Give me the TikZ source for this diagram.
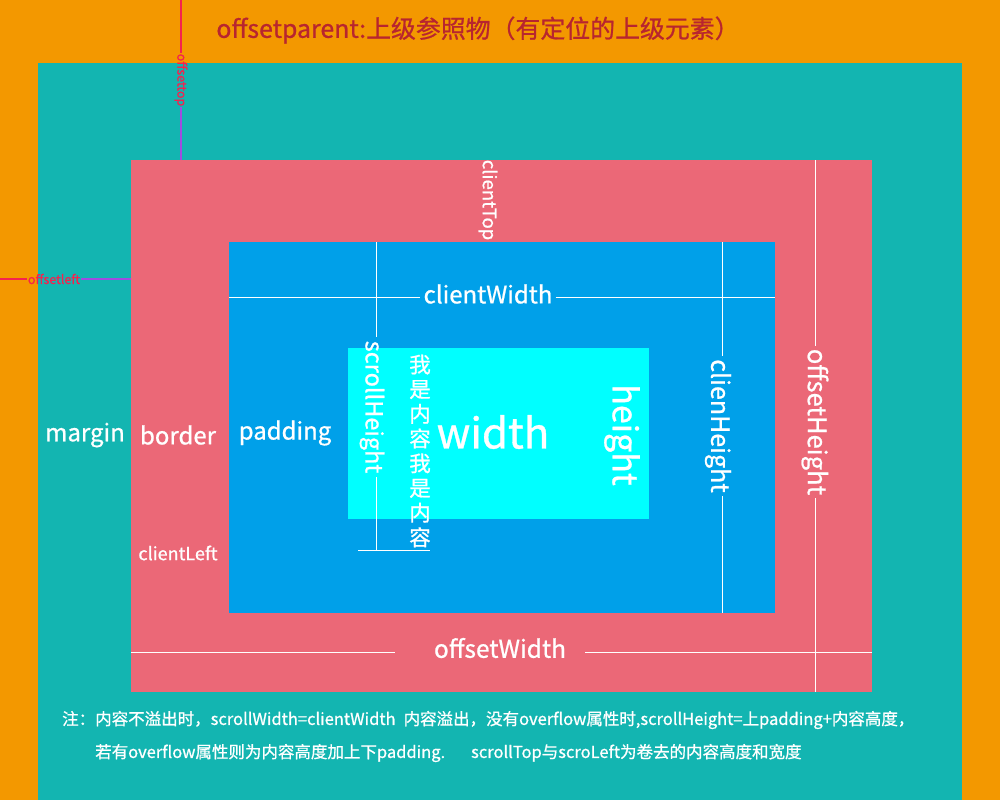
\documentclass[tikz,border=0pt]{standalone}
\usepackage{fontspec}
\setmainfont{Noto Sans CJK SC}[FakeBold=0.8]
\definecolor{orangebg}{HTML}{F39800}
\definecolor{tealbg}{HTML}{13B5B1}
\definecolor{pinkbg}{HTML}{EB6877}
\definecolor{bluebg}{HTML}{00A0E9}
\definecolor{cyanbg}{HTML}{00FFFF}
\definecolor{titlered}{HTML}{B8252F}
\definecolor{offred}{HTML}{F5224E}
\definecolor{offpurple}{HTML}{A04CE0}
\tikzset{
  box/.style={fill=#1, draw=none, inner sep=0pt, anchor=north west},
  lbl/.style={text=white, inner sep=0pt, font=\fontsize{#1}{#1}\selectfont},
  vlbl/.style={lbl=#1, rotate=-90},
  wline/.style={draw=white, line width=0.9pt},
  redlbl/.style={text=offred, inner sep=1pt, font=\fontsize{12.5}{12.5}\selectfont},
}
\begin{document}
\begin{tikzpicture}[x=1pt,y=-1pt]
\useasboundingbox (0,0) rectangle (1000,800);
\fill[orangebg] (0,0) rectangle (1000,800);
% boxes
\node[box=tealbg, minimum width=924pt, minimum height=737pt] (marginbox) at (38,63) {};
\node[box=pinkbg, minimum width=741pt, minimum height=532pt] (borderbox) at (131,160) {};
\node[box=bluebg, minimum width=546pt, minimum height=371pt] (paddingbox) at (229,242) {};
\node[box=cyanbg, minimum width=301pt, minimum height=171pt] (contentbox) at (348,348) {};

% title
\node[text=titlered, inner sep=0pt, font=\fontsize{24.9}{24.9}\selectfont] (title) at (478,30) {offsetparent:上级参照物（有定位的上级元素）};

% offsettop
\coordinate (ottop) at (181,0);
\node[redlbl, rotate=-90] (offtop) at (181,80) {offsettop};
\draw[offred, line width=1.1pt] (ottop) -- (offtop.west);
\draw[offpurple, line width=1.1pt] (offtop.east) -- (offtop.east |- borderbox.north);

% offsetleft
\coordinate (olleft) at (0,279);
\node[redlbl] (offleft) at (54,279) {offsetleft};
\draw[offred, line width=1.1pt] (olleft) -- (offleft.west);
\draw[offpurple, line width=1.1pt] (offleft.east) -- (offleft.east -| borderbox.west);

% clientTop
\node[vlbl=18.5, inner sep=0pt] (ctop) at (488,200) {clientTop};

% clientWidth
\node[lbl=24, inner xsep=3pt] (cwidth) at (488,294) {clientWidth};
\draw[wline] (paddingbox.west |- 0,297) -- (cwidth.west |- 0,297);
\draw[wline] (cwidth.east |- 0,297) -- (paddingbox.east |- 0,297);

% scrollHeight
\node[vlbl=23.5, inner xsep=4pt] (sheight) at (372,407) {scrollHeight};
\coordinate (shtop) at (376,242);
\coordinate (shbot) at (376,550);
\coordinate (shl) at (358,550);
\coordinate (shr) at (430,550);
\draw[wline] (shtop) -- (shtop |- sheight.west);
\draw[wline] (shbot |- sheight.east) -- (shbot);
\draw[wline] (shl) -- (shr);

% vertical content text
\node[text=white, inner sep=0pt, align=center, font=\fontsize{21.5}{24.7}\selectfont] (content) at (420,451)
  {我\\是\\内\\容\\我\\是\\内\\容};

% width / height
\node[lbl=42] (width) at (493,432) {width};
\node[vlbl=34] (height) at (622,435) {height};

% clienHeight
\node[vlbl=25, inner xsep=3pt] (cheight) at (718,426) {clienHeight};
\draw[wline] (paddingbox.north -| 722,0) -- (cheight.west -| 722,0);
\draw[wline] (cheight.east -| 722,0) -- (paddingbox.south -| 722,0);

% offsetHeight
\node[vlbl=25.5, inner xsep=3pt] (oheight) at (815,422) {offsetHeight};
\draw[wline] (borderbox.north -| oheight) -- (oheight.west);
\draw[wline] (oheight.east) -- (borderbox.south -| oheight);

% offsetWidth
\node[lbl=24.5] (owidth) at (500,648) {offsetWidth};
\coordinate (owl) at (395,652);
\coordinate (owr) at (585,652);
\draw[wline] (borderbox.west |- owl) -- (owl);
\draw[wline] (owr) -- (borderbox.east |- owr);

% side labels
\node[lbl=24] (margin) at (85,435) {margin};
\node[lbl=24] (border) at (178,435) {border};
\node[lbl=24] (padding) at (285,433) {padding};
\node[lbl=18] (cleft) at (178,553) {clientLeft};

% notes
\node[lbl=16.5, anchor=west] (note1) at (62,720) {注：内容不溢出时，scrollWidth=clientWidth\hspace{8pt}内容溢出，没有overflow属性时,scrollHeight=上padding+内容高度，};
\node[lbl=16.5, anchor=west] (note2) at (95,753) {若有overflow属性则为内容高度加上下padding.\hspace{26pt}scrollTop与scroLeft为卷去的内容高度和宽度};
\end{tikzpicture}
\end{document}
